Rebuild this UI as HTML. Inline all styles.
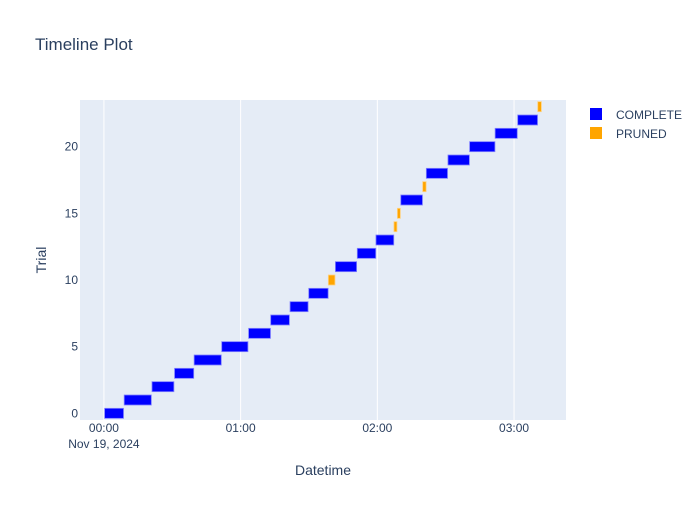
<!DOCTYPE html>
<html><head><meta charset="utf-8"><style>
body{margin:0;background:#fff;font-family:"Liberation Sans",Arial,sans-serif;}
svg text{font-family:"Liberation Sans",Arial,sans-serif;}
</style></head><body>
<svg id="chart" width="700" height="500">
<rect x="0" y="0" width="700" height="500" fill="#fff"/>
<text x="35" y="50" font-size="17" fill="#2a3f5f">Timeline Plot</text>
<rect x="80" y="100" width="486" height="320" fill="#e5ecf6"/>
<g id="grid"></g><g id="bars"></g><g id="axes"></g>
<text x="323" y="475" font-size="14" fill="#2a3f5f" text-anchor="middle">Datetime</text>
<text x="46" y="260" font-size="14" fill="#2a3f5f" text-anchor="middle" transform="rotate(-90 46 260)">Trial</text>
<g>
<g><rect x="590" y="108" width="12" height="12" fill="#0000ff"/><text x="616" y="119" font-size="12" fill="#2a3f5f">COMPLETE</text></g>
<g><rect x="590" y="127" width="12" height="12" fill="#ffa500"/><text x="616" y="138" font-size="12" fill="#2a3f5f">PRUNED</text></g>
</g>
</svg>
<script>
// minutes since Nov 19, 2024 00:00
const trials=[0,1,2,3,4,5,6,7,8,9,10,11,12,13,14,15,16,17,18,19,20,21,22,23];
const starts=[0.3,8.9,21.1,31.0,39.6,51.7,63.5,73.2,81.7,89.9,98.5,101.6,111.2,119.4,127.3,128.8,130.3,139.9,141.5,151.0,160.5,171.7,181.6,190.4];
const ends=[8.6,20.8,30.7,39.4,51.5,63.2,73.1,81.4,89.6,98.4,101.4,110.9,119.3,127.2,128.6,130.1,139.8,141.4,150.8,160.4,171.6,181.4,190.3,192.0];
const states=["C","C","C","C","C","C","C","C","C","C","P","C","C","C","P","P","C","P","C","C","C","C","C","P"];
const xTickVals=[0,60,120,180];
const xTickLabels=["00:00","01:00","02:00","03:00"];
const yTickVals=[0,5,10,15,20];
const NS="http://www.w3.org/2000/svg";
const X0=80,X1=566,Y0=100,Y1=420,xMin=-10.5,xMax=202.8,yMin=-0.5,yMax=23.5;
const xs=v=>X0+(v-xMin)/(xMax-xMin)*(X1-X0);
const ys=v=>Y1-(v-yMin)/(yMax-yMin)*(Y1-Y0);
function mk(tag,attrs,parent){const e=document.createElementNS(NS,tag);for(const k in attrs)e.setAttribute(k,attrs[k]);document.getElementById(parent).appendChild(e);return e;}
xTickVals.forEach((v,i)=>{
  const g=mk("line",{x1:xs(v),x2:xs(v),y1:Y0,y2:Y1,stroke:"#fff","stroke-width":1},"grid");
  
  
  const t=mk("text",{x:xs(v),y:432,"font-size":12,fill:"#2a3f5f","text-anchor":"middle"},"axes");
  t.textContent=xTickLabels[i];
  
  
});
const d=mk("text",{x:xs(0),y:448,"font-size":12,fill:"#2a3f5f","text-anchor":"middle"},"axes");
d.textContent="Nov 19, 2024";


yTickVals.forEach(v=>{
  const t=mk("text",{x:78,y:ys(v)+4,"font-size":12,fill:"#2a3f5f","text-anchor":"end"},"axes");
  t.textContent=v;
  
  
});
trials.forEach((tr,i)=>{
  const x=xs(starts[i]),w=xs(ends[i])-x,y=ys(tr)-5;
  const b=mk("rect",{x:x,y:y,width:w,height:10,fill:states[i]=="C"?"#0000ff":"#ffa500",stroke:states[i]=="C"?"#8080ff":"#ffd280","stroke-width":0.8},"bars");
  
  
});
</script>
</body></html>
